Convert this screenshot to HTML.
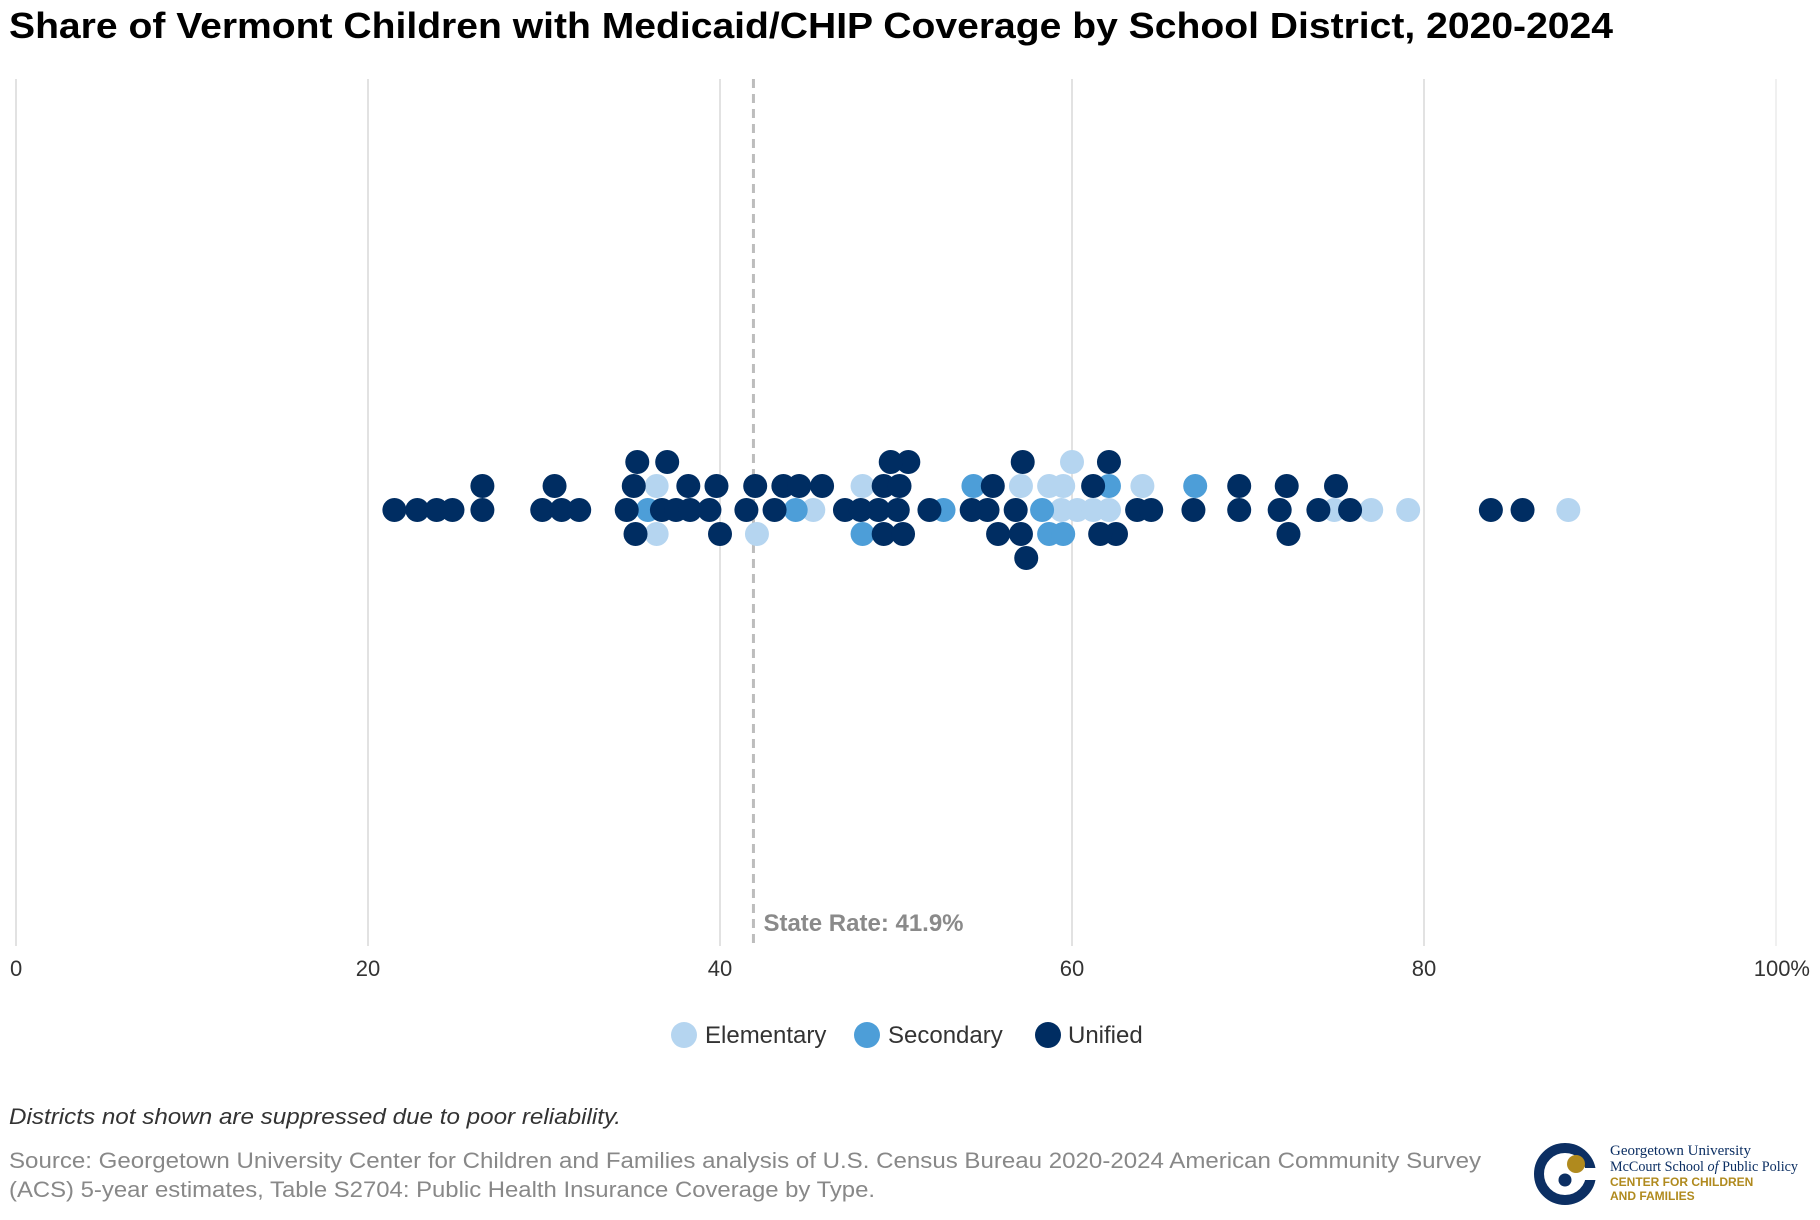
<!DOCTYPE html>
<html><head><meta charset="utf-8"><style>
body{margin:0;background:#fff;}
svg{display:block;font-family:"Liberation Sans",sans-serif;}
</style></head><body>
<svg id="chart" width="1820" height="1220" viewBox="0 0 1820 1220" xmlns="http://www.w3.org/2000/svg">
<text x="9" y="38" font-size="36" font-weight="bold" fill="#000" textLength="1604" lengthAdjust="spacingAndGlyphs">Share of Vermont Children with Medicaid/CHIP Coverage by School District, 2020-2024</text>
<g id="grid"></g>
<g id="ticks"></g>
<g id="stateline"></g>
<g id="dots"></g>
<g>
 <g><circle cx="684" cy="1035" r="13" fill="#b5d5f0"/><text x="705" y="1043" font-size="24" fill="#333">Elementary</text></g>
 <g><circle cx="867" cy="1035" r="13" fill="#4d9ed8"/><text x="888" y="1043" font-size="24" fill="#333">Secondary</text></g>
 <g><circle cx="1048" cy="1035" r="13" fill="#002d62"/><text x="1068" y="1043" font-size="24" fill="#333">Unified</text></g>
</g>
<text x="9" y="1124" font-size="22" font-style="italic" fill="#333" textLength="612" lengthAdjust="spacingAndGlyphs">Districts not shown are suppressed due to poor reliability.</text>
<text x="9" y="1168" font-size="22" fill="#888" textLength="1472" lengthAdjust="spacingAndGlyphs">Source: Georgetown University Center for Children and Families analysis of U.S. Census Bureau 2020-2024 American Community Survey</text>
<text x="9" y="1197" font-size="22" fill="#888" textLength="866" lengthAdjust="spacingAndGlyphs">(ACS) 5-year estimates, Table S2704: Public Health Insurance Coverage by Type.</text>
<g>
 <circle cx="1565" cy="1174" r="26" fill="none" stroke="#0c2f63" stroke-width="10"/>
 <rect x="1584" y="1168" width="14" height="12" fill="#fff"/>
 <circle cx="1576" cy="1164" r="9" fill="#b08a1e"/>
 <circle cx="1565" cy="1180" r="6.5" fill="#0c2f63"/>
 <text x="1610" y="1155" font-family="Liberation Serif,serif" font-size="15" fill="#0c2f63">Georgetown University</text>
 <text x="1610" y="1171" font-family="Liberation Serif,serif" font-size="15" fill="#0c2f63" textLength="188" lengthAdjust="spacingAndGlyphs">McCourt School <tspan font-style="italic">of</tspan> Public Policy</text>
 <text x="1610" y="1186" font-size="12" font-weight="bold" fill="#b08a1e">CENTER FOR CHILDREN</text>
 <text x="1610" y="1200" font-size="12" font-weight="bold" fill="#b08a1e">AND FAMILIES</text>
</g>
</svg>
<script>
const tickValues=[0,20,40,60,80,100];
const tickLabels=["0","20","40","60","80","100%"];
const stateRate=41.9;
const elementaryValues=[36.4,36.4,42.1,45.3,48.1,57.1,59.4,58.7,59.5,60.0,60.3,61.2,62.1,64.0,74.9,77.0,79.1,88.2];
const secondaryValues=[35.9,44.3,48.1,52.7,54.4,58.3,58.7,59.5,62.1,67.0];
const unifiedValues=[21.5,22.8,23.9,24.8,26.5,26.5,29.9,30.6,31.0,32.0,34.7,35.1,35.2,35.3,36.7,37.0,37.5,38.2,38.3,39.4,39.8,40.0,41.5,42.0,43.1,43.6,44.5,45.8,47.1,48.0,49.0,49.3,49.3,50.1,50.2,50.7,50.4,49.7,51.9,54.3,55.2,55.5,55.8,56.8,57.1,57.2,57.4,61.2,62.1,62.5,61.6,63.7,64.5,66.9,69.5,69.5,72.2,71.8,72.3,74.0,75.0,75.8,83.8,85.6];
const NS="http://www.w3.org/2000/svg";
const X0=16,X1=1776,TOP=79,BOT=946,BASE=510,R=12,ROW=24,GAP=13;
function xScale(v){return X0+(X1-X0)*v/100;}
const grid=document.getElementById('grid'),ticks=document.getElementById('ticks');
tickValues.forEach((t,i)=>{
 const l=document.createElementNS(NS,'line');
 
 
 l.setAttribute('x1',xScale(t));l.setAttribute('x2',xScale(t));l.setAttribute('y1',TOP);l.setAttribute('y2',BOT);
 l.setAttribute('stroke',t===100?'#f0f0f0':'#e2e2e2');l.setAttribute('stroke-width','2');
 grid.appendChild(l);
 const tx=document.createElementNS(NS,'text');
 
 
 tx.setAttribute('x',xScale(t));tx.setAttribute('y',976);tx.setAttribute('font-size','22');tx.setAttribute('fill','#333');
 tx.setAttribute('text-anchor',i===0?'start':(i===tickValues.length-1?'end':'middle'));
 if(i===0)tx.setAttribute('x',xScale(t)-6);
 if(i===tickValues.length-1)tx.setAttribute('x',xScale(t)+34);
 tx.textContent=tickLabels[i];ticks.appendChild(tx);
});
const sl=document.getElementById('stateline');
const dl=document.createElementNS(NS,'line');


dl.setAttribute('x1',xScale(stateRate));dl.setAttribute('x2',xScale(stateRate));dl.setAttribute('y1',TOP);dl.setAttribute('y2',BOT);
dl.setAttribute('stroke','#bdbdbd');dl.setAttribute('stroke-width','3');dl.setAttribute('stroke-dasharray','9,6');
sl.appendChild(dl);
const st=document.createElementNS(NS,'text');


st.setAttribute('x',xScale(stateRate)+10);st.setAttribute('y',931);st.setAttribute('font-size','24');st.setAttribute('font-weight','bold');st.setAttribute('fill','#8a8a8a');
st.textContent='State Rate: '+stateRate+'%';sl.appendChild(st);
const pts=[];
elementaryValues.forEach(v=>pts.push({v,c:'#b5d5f0',k:'elementary'}));
secondaryValues.forEach(v=>pts.push({v,c:'#4d9ed8',k:'secondary'}));
unifiedValues.forEach(v=>pts.push({v,c:'#002d62',k:'unified'}));
const placed=[];
const order=pts.slice().sort((a,b)=>a.v-b.v);
const rows=[0,-1,1,-2,2,-3,3];
order.forEach(p=>{
 const x=xScale(p.v);let row=0;
 for(const r of rows){
  if(!placed.some(q=>q.row===r&&Math.abs(q.x-x)<GAP)){row=r;break;}
 }
 p.x=x;p.row=row;p.y=BASE+row*ROW;placed.push(p);
});
const dots=document.getElementById('dots');
['elementary','secondary','unified'].forEach(k=>{
 pts.filter(p=>p.k===k).forEach(p=>{
  const c=document.createElementNS(NS,'circle');
  
  
  c.setAttribute('cx',p.x);c.setAttribute('cy',p.y);c.setAttribute('r',R);c.setAttribute('fill',p.c);
  dots.appendChild(c);
 });
});
</script>
</body></html>
